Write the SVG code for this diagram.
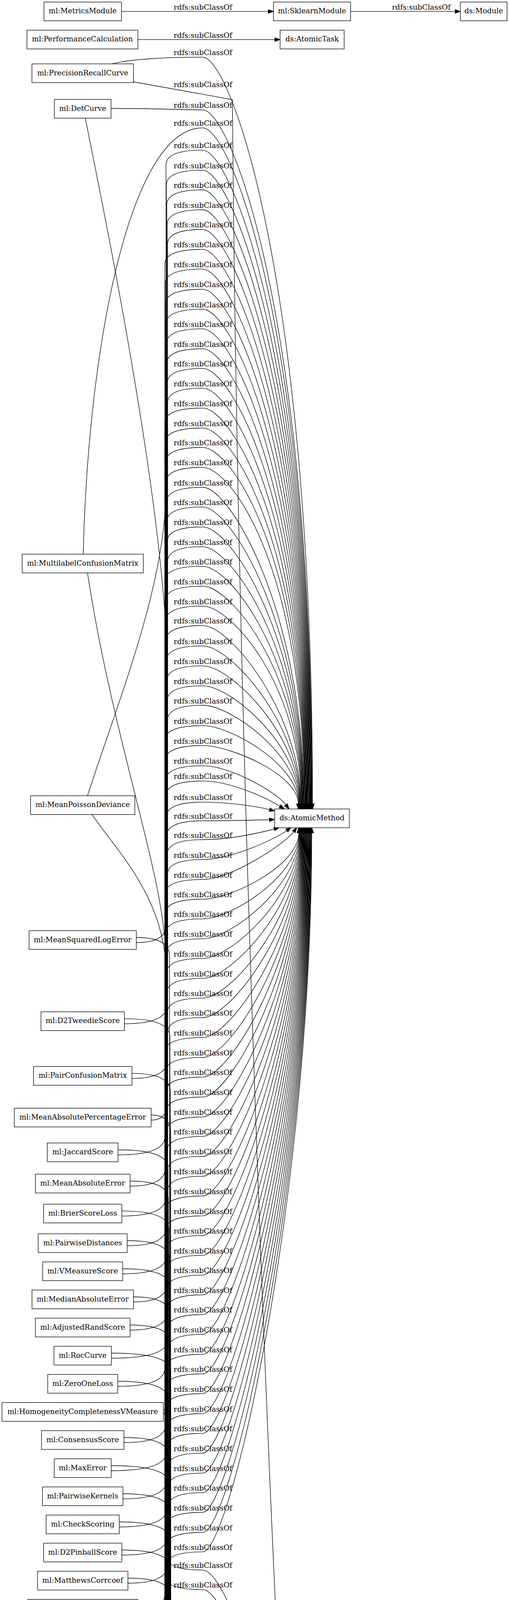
<svg xmlns="http://www.w3.org/2000/svg" width="1303" height="7768" viewBox="0 0 1303 7768">
<style>
.n rect{fill:#fff;stroke:#000;stroke-width:1.33}
.n text,.l text{font-family:"DejaVu Serif","Liberation Serif",serif;font-size:18.67px;text-anchor:middle;fill:#000}
.e path{fill:none;stroke:#000;stroke-width:1.33;marker-end:url(#ah)}
</style>
<defs>
<marker id="ah" markerWidth="16" markerHeight="12" refX="0" refY="0" orient="auto" markerUnits="userSpaceOnUse" overflow="visible"><path d="M0,-4.67L13.3,0L0,4.67z" fill="#000" stroke="#000" stroke-width="1.33"/></marker>
</defs>
<rect x="0" y="0" width="1303" height="7768" fill="#fff"/>
<g id="edges" class="e">
<path d="M311,29.3 L686.7,29.3"/>
<path d="M897.5,29.3 L1165.2,29.3"/>
<path d="M353,101.3 L703.7,101.3"/>
<path d="M286.7,163.5 C340,150 440,146.3 519,146.3 C590,146.3 800,719.7 800,2057.7"/>
<path d="M341.7,209.5 L595,255 C610,2100 700,4300 798,5806.7"/>
<path d="M284.2,277.5 C400,277.5 470,281.3 519,281.3 C590,281.3 798.9,814.2 798.9,2057.7"/>
<path d="M218.3,302.5 C270,560 422,1300 428,1700 V3987.3 Q428,4019.3 519,4019.3 C590,4019.3 800,4555.5 800,5806.7"/>
<path d="M213,1418.6 C225,900 330,327.3 519,327.3 C590,327.3 797.8,846.4 797.8,2057.7"/>
<path d="M224,1466.6 C290,1900 424,2250 424,2450 V4037.3 Q424,4069.3 519,4069.3 C590,4069.3 798.8,4590.5 798.8,5806.7"/>
<path d="M224,2037.2 C300,1800 425,1500 425,1250 V422.3 Q425,384.3 519,384.3 C590,384.3 796.7,886.3 796.7,2057.7"/>
<path d="M235.4,2085.2 C300,2180 426,2300 426,2500 V4088.5 Q426,4120.5 519,4120.5 C590,4120.5 797.6,4626.4 797.6,5806.7"/>
<path d="M348.9,2413 Q426,2413 426,2366.5 V473.6 Q426,435.6 519,435.6 C590,435.6 795.6,922.2 795.6,2057.7"/>
<path d="M348.9,2400 Q434,2400 434,2446.5 V4139 Q434,4171 519,4171 C590,4171 796.4,4661.7 796.4,5806.7"/>
<path d="M318.5,2620.8 Q427,2620.8 427,2574.3 V524 Q427,486 519,486 C590,486 794.5,957.5 794.5,2057.7"/>
<path d="M318.5,2607.8 Q435,2607.8 435,2654.3 V4189.6 Q435,4221.6 519,4221.6 C590,4221.6 795.2,4697.1 795.2,5806.7"/>
<path d="M337.8,2760.8 Q428,2760.8 428,2714.3 V575 Q428,537 519,537 C590,537 793.4,993.2 793.4,2057.7"/>
<path d="M337.8,2747.8 Q436,2747.8 436,2794.3 V4240.2 Q436,4272.2 519,4272.2 C590,4272.2 794,4732.6 794,5806.7"/>
<path d="M387,2867.5 Q429,2867.5 429,2821 V625.4 Q429,587.4 519,587.4 C590,587.4 792.3,1028.5 792.3,2057.7"/>
<path d="M387,2854.5 Q437,2854.5 437,2901 V4290.7 Q437,4322.7 519,4322.7 C590,4322.7 792.8,4767.9 792.8,5806.7"/>
<path d="M302.2,2956.5 Q422,2956.5 422,2910 V676.4 Q422,638.4 519,638.4 C590,638.4 791.2,1064.2 791.2,2057.7"/>
<path d="M302.2,2943.5 Q430,2943.5 430,2990 V4341.3 Q430,4373.3 519,4373.3 C590,4373.3 791.6,4803.3 791.6,5806.7"/>
<path d="M332.9,3036.5 Q423,3036.5 423,2990 V726.8 Q423,688.8 519,688.8 C590,688.8 790.1,1099.5 790.1,2057.7"/>
<path d="M332.9,3023.5 Q431,3023.5 431,3070 V4392.5 Q431,4424.5 519,4424.5 C590,4424.5 790.4,4839.2 790.4,5806.7"/>
<path d="M311.8,3113.1 Q424,3113.1 424,3066.6 V778.4 Q424,740.4 519,740.4 C590,740.4 789,1135.6 789,2057.7"/>
<path d="M311.8,3100.1 Q432,3100.1 432,3146.6 V4443 Q432,4475 519,4475 C590,4475 789.2,4874.5 789.2,5806.7"/>
<path d="M325.6,3189 Q425,3189 425,3142.5 V829.5 Q425,791.5 519,791.5 C590,791.5 787.9,1171.4 787.9,2057.7"/>
<path d="M325.6,3176 Q433,3176 433,3222.5 V4493.6 Q433,4525.6 519,4525.6 C590,4525.6 788,4909.9 788,5806.7"/>
<path d="M314.1,3261 Q426,3261 426,3214.5 V879.8 Q426,841.8 519,841.8 C590,841.8 786.8,1206.6 786.8,2057.7"/>
<path d="M314.1,3248 Q434,3248 434,3294.5 V4544.2 Q434,4576.2 519,4576.2 C590,4576.2 786.8,4945.4 786.8,5806.7"/>
<path d="M341.6,3333 Q427,3333 427,3286.5 V930.9 Q427,892.9 519,892.9 C590,892.9 785.7,1242.3 785.7,2057.7"/>
<path d="M341.6,3320 Q435,3320 435,3366.5 V4595.3 Q435,4627.3 519,4627.3 C590,4627.3 785.6,4981.1 785.6,5806.7"/>
<path d="M332.9,3405 Q428,3405 428,3358.5 V981.2 Q428,943.2 519,943.2 C590,943.2 784.6,1277.6 784.6,2057.7"/>
<path d="M332.9,3392 Q436,3392 436,3438.5 V4645.9 Q436,4677.9 519,4677.9 C590,4677.9 784.4,5016.5 784.4,5806.7"/>
<path d="M285.3,3477 Q429,3477 429,3430.5 V1031.6 Q429,993.6 519,993.6 C590,993.6 783.5,1312.8 783.5,2057.7"/>
<path d="M285.3,3464 Q437,3464 437,3510.5 V4696.4 Q437,4728.4 519,4728.4 C590,4728.4 783.2,5051.9 783.2,5806.7"/>
<path d="M301.3,3549 Q422,3549 422,3502.5 V1082.7 Q422,1044.7 519,1044.7 C590,1044.7 782.4,1348.6 782.4,2057.7"/>
<path d="M301.3,3536 Q430,3536 430,3582.5 V4747 Q430,4779 519,4779 C590,4779 782,5087.3 782,5806.7"/>
<path d="M418.4,3621 Q423,3621 423,3574.5 V1133.7 Q423,1095.7 519,1095.7 C590,1095.7 781.3,1384.3 781.3,2057.7"/>
<path d="M418.4,3608 Q431,3608 431,3654.5 V4797.6 Q431,4829.6 519,4829.6 C590,4829.6 780.8,5122.7 780.8,5806.7"/>
<path d="M317.3,3693 Q424,3693 424,3646.5 V1183.4 Q424,1145.4 519,1145.4 C590,1145.4 780.2,1419.1 780.2,2057.7"/>
<path d="M317.3,3680 Q432,3680 432,3726.5 V4848.7 Q432,4880.7 519,4880.7 C590,4880.7 779.6,5158.5 779.6,5806.7"/>
<path d="M284.7,3765 Q425,3765 425,3718.5 V1234.4 Q425,1196.4 519,1196.4 C590,1196.4 779.1,1454.8 779.1,2057.7"/>
<path d="M284.7,3752 Q433,3752 433,3798.5 V4899.3 Q433,4931.3 519,4931.3 C590,4931.3 778.4,5193.9 778.4,5806.7"/>
<path d="M314.7,3837 Q426,3837 426,3790.5 V1285.5 Q426,1247.5 519,1247.5 C590,1247.5 778,1571.6 778,2057.7"/>
<path d="M314.7,3824 Q434,3824 434,3870.5 V4949.3 Q434,4981.3 519,4981.3 C590,4981.3 777.2,5228.9 777.2,5806.7"/>
<path d="M305.4,3909 Q427,3909 427,3862.5 V1335.8 Q427,1297.8 519,1297.8 C590,1297.8 776.9,1601.8 776.9,2057.7"/>
<path d="M305.4,3896 Q435,3896 435,3942.5 V5000.5 Q435,5032.5 519,5032.5 C590,5032.5 776,5342.2 776,5806.7"/>
<path d="M311.8,3981 Q428,3981 428,3934.5 V1386.9 Q428,1348.9 519,1348.9 C590,1348.9 775.8,1632.4 775.8,2057.7"/>
<path d="M311.8,3968 Q436,3968 436,4014.5 V5051.6 Q436,5083.6 519,5083.6 C590,5083.6 774.8,5372.8 774.8,5806.7"/>
<path d="M327.5,4053 Q429,4053 429,4006.5 V1437.6 Q429,1399.6 519,1399.6 C590,1399.6 774.7,1662.8 774.7,2057.7"/>
<path d="M327.5,4040 Q437,4040 437,4086.5 V5101.6 Q437,5133.6 519,5133.6 C590,5133.6 773.6,5402.8 773.6,5806.7"/>
<path d="M352.8,4125 Q422,4125 422,4078.5 V1487.6 Q422,1449.6 519,1449.6 C590,1449.6 773.6,1692.8 773.6,2057.7"/>
<path d="M352.8,4112 Q430,4112 430,4158.5 V5152.8 Q430,5184.8 519,5184.8 C590,5184.8 772.4,5433.6 772.4,5806.7"/>
<path d="M383.8,4197 Q423,4197 423,4150.5 V1538.6 Q423,1500.6 519,1500.6 C590,1500.6 772.5,1723.4 772.5,2057.7"/>
<path d="M383.8,4184 Q431,4184 431,4230.5 V5203.3 Q431,5235.3 519,5235.3 C590,5235.3 771.2,5463.9 771.2,5806.7"/>
<path d="M334.6,4269 Q424,4269 424,4222.5 V1589.6 Q424,1551.6 519,1551.6 C590,1551.6 771.4,1754 771.4,2057.7"/>
<path d="M334.6,4256 Q432,4256 432,4302.5 V5253.3 Q432,5285.3 519,5285.3 C590,5285.3 770,5493.9 770,5806.7"/>
<path d="M415.8,4341 Q425,4341 425,4294.5 V1639.4 Q425,1601.4 519,1601.4 C590,1601.4 770.3,1829.6 770.3,2057.7"/>
<path d="M415.8,4328 Q433,4328 433,4374.5 V5304.5 Q433,5336.5 519,5336.5 C590,5336.5 768.8,5571.6 768.8,5806.7"/>
<path d="M329.5,4413 Q426,4413 426,4366.5 V1691.6 Q426,1653.6 519,1653.6 C590,1653.6 769.2,1855.7 769.2,2057.7"/>
<path d="M329.5,4400 Q434,4400 434,4446.5 V5355.6 Q434,5387.6 519,5387.6 C590,5387.6 767.6,5597.2 767.6,5806.7"/>
<path d="M349.6,4485 Q427,4485 427,4438.5 V1742.6 Q427,1704.6 519,1704.6 C590,1704.6 768.1,1881.2 768.1,2057.7"/>
<path d="M349.6,4472 Q435,4472 435,4518.5 V5405.6 Q435,5437.6 519,5437.6 C590,5437.6 766.4,5622.2 766.4,5806.7"/>
<path d="M345.5,4557 Q428,4557 428,4510.5 V1793.6 Q428,1755.6 519,1755.6 C590,1755.6 767,1906.7 767,2057.7"/>
<path d="M345.5,4544 Q436,4544 436,4590.5 V5456.8 Q436,5488.8 519,5488.8 C590,5488.8 765.2,5647.8 765.2,5806.7"/>
<path d="M327.5,4629 Q429,4629 429,4582.5 V1843.5 Q429,1805.5 519,1805.5 C590,1805.5 765.9,1931.6 765.9,2057.7"/>
<path d="M327.5,4616 Q437,4616 437,4662.5 V5507.3 Q437,5539.3 519,5539.3 C590,5539.3 764,5673 764,5806.7"/>
<path d="M320.5,4701 Q422,4701 422,4654.5 V1895.7 Q422,1857.7 519,1857.7 C590,1857.7 764.8,1957.7 764.8,2057.7"/>
<path d="M320.5,4688 Q430,4688 430,4734.5 V5557.3 Q430,5589.3 519,5589.3 C590,5589.3 762.8,5698 762.8,5806.7"/>
<path d="M319.2,4773 Q423,4773 423,4726.5 V1946.7 Q423,1908.7 519,1908.7 C590,1908.7 763.7,1983.2 763.7,2057.7"/>
<path d="M319.2,4760 Q431,4760 431,4806.5 V5608.4 Q431,5640.4 519,5640.4 C590,5640.4 761.6,5723.6 761.6,5806.7"/>
<path d="M374.2,4845 Q424,4845 424,4798.5 V1998.3 Q424,1960.3 519,1960.3 C590,1960.3 708,2028.4 732,2060.4"/>
<path d="M374.2,4832 Q432,4832 432,4878.5 V5659 Q432,5691 519,5691 C590,5691 758,5748.9 758,5806.7"/>
<path d="M284.7,4917 Q425,4917 425,4870.5 V2037.4 Q425,1999.4 519,1999.4 C590,1999.4 682.7,2042.9 716.7,2064"/>
<path d="M284.7,4904 Q433,4904 433,4950.5 V5709.6 Q433,5741.6 519,5741.6 C590,5741.6 688.7,5795.4 724.2,5813.9"/>
<path d="M290.1,4989 Q426,4989 426,4942.5 V2091.4 Q426,2053.4 519,2053.4 C580,2053.4 651.3,2063.1 690.1,2072.8"/>
<path d="M290.1,4976 Q434,4976 434,5022.5 V5760.1 Q434,5792.1 519,5792.1 C545,5792.1 573.4,5805.5 611.4,5817.9"/>
<path d="M334.2,5061 Q427,5061 427,5014.5 V2139.4 Q427,2101.4 519,2101.4 C580,2101.4 649.7,2099.5 689.7,2098.5"/>
<path d="M334.2,5048 Q435,5048 435,5094.5 V5811.3 Q435,5843.3 519,5843.3 C545,5843.3 568.9,5852.2 607.7,5861.8"/>
<path d="M314.7,5133 Q428,5133 428,5086.5 V2187.5 Q428,2149.5 519,2149.5 C590,2149.5 663.6,2132.6 702.2,2122"/>
<path d="M314.7,5120 Q436,5120 436,5166.5 V5861.9 Q436,5893.9 519,5893.9 C600,5893.9 671.4,5881.5 710.1,5871.4"/>
<path d="M354.7,5205 Q429,5205 429,5158.5 V2238.5 Q429,2200.5 519,2200.5 C590,2200.5 701.8,2149.7 734.2,2126.3"/>
<path d="M354.7,5192 Q437,5192 437,5238.5 V5911.9 Q437,5943.9 519,5943.9 C600,5943.9 712.7,5906.1 740.7,5877.5"/>
<path d="M330.7,5277 Q422,5277 422,5230.5 V2289.5 Q422,2251.5 519,2251.5 C590,2251.5 728,2161.1 752,2129.1"/>
<path d="M330.7,5264 Q430,5264 430,5310.5 V5983 C430,6011 475,6023 515,6023 C575,6023 762,5927.1 762,5881.3"/>
<path d="M309.9,5349 Q423,5349 423,5302.5 V2339.9 Q423,2301.9 519,2301.9 C590,2301.9 765,2216.9 765,2131.8"/>
<path d="M309.9,5336 Q431,5336 431,5382.5 V6033.6 C431,6061.6 475,6073.6 515,6073.6 C575,6073.6 763.1,5949.8 763.1,5881.3"/>
<path d="M350.2,5421 Q424,5421 424,5374.5 V2390.3 Q424,2352.3 519,2352.3 C590,2352.3 766,2242.1 766,2131.8"/>
<path d="M350.2,5408 Q432,5408 432,5454.5 V6084.8 C432,6112.8 475,6124.8 515,6124.8 C575,6124.8 764.2,5972.9 764.2,5881.3"/>
<path d="M309.3,5493 Q425,5493 425,5446.5 V2441.3 Q425,2403.3 519,2403.3 C590,2403.3 767,2267.6 767,2131.8"/>
<path d="M309.3,5480 Q433,5480 433,5526.5 V6135.3 C433,6163.3 475,6175.3 515,6175.3 C575,6175.3 765.3,5995.6 765.3,5881.3"/>
<path d="M318.6,5565 Q426,5565 426,5518.5 V2491.7 Q426,2453.7 519,2453.7 C590,2453.7 768,2292.8 768,2131.8"/>
<path d="M318.6,5552 Q434,5552 434,5598.5 V6185.3 C434,6213.3 475,6225.3 515,6225.3 C575,6225.3 766.4,6018.1 766.4,5881.3"/>
<path d="M278.3,5637 Q427,5637 427,5590.5 V2542.7 Q427,2504.7 519,2504.7 C590,2504.7 769,2318.3 769,2131.8"/>
<path d="M278.3,5624 Q435,5624 435,5670.5 V6236.5 C435,6264.5 475,6276.5 515,6276.5 C575,6276.5 767.5,6041.1 767.5,5881.3"/>
<path d="M370.7,5709 Q428,5709 428,5662.5 V2593.2 Q428,2555.2 519,2555.2 C590,2555.2 770,2343.5 770,2131.8"/>
<path d="M370.7,5696 Q436,5696 436,5742.5 V6287 C436,6315 475,6327 515,6327 C575,6327 768.6,6063.9 768.6,5881.3"/>
<path d="M361.4,5781 Q429,5781 429,5734.5 V2643 Q429,2605 519,2605 C590,2605 771,2368.4 771,2131.8"/>
<path d="M361.4,5768 Q437,5768 437,5814.5 V6337.6 C437,6365.6 475,6377.6 515,6377.6 C575,6377.6 769.7,6086.6 769.7,5881.3"/>
<path d="M277.9,5853 Q422,5853 422,5806.5 V2694 Q422,2656 519,2656 C590,2656 772,2393.9 772,2131.8"/>
<path d="M277.9,5840 Q430,5840 430,5886.5 V6388.8 C430,6416.8 475,6428.8 515,6428.8 C575,6428.8 770.8,6109.7 770.8,5881.3"/>
<path d="M296.5,5925 Q423,5925 423,5878.5 V2745 Q423,2707 519,2707 C590,2707 773,2419.4 773,2131.8"/>
<path d="M296.5,5912 Q431,5912 431,5958.5 V6429.3 C431,6457.3 475,6469.3 515,6469.3 C575,6469.3 771.9,6127.9 771.9,5881.3"/>
<path d="M326.3,5997 Q424,5997 424,5950.5 V2795.4 Q424,2757.4 519,2757.4 C590,2757.4 774,2444.6 774,2131.8"/>
<path d="M326.3,5984 Q432,5984 432,6030.5 V6487.5 C432,6515.5 475,6527.5 515,6527.5 C575,6527.5 773,6154.1 773,5881.3"/>
<path d="M361.4,6069 Q425,6069 425,6022.5 V2846.4 Q425,2808.4 519,2808.4 C590,2808.4 775,2470.1 775,2131.8"/>
<path d="M361.4,6056 Q433,6056 433,6102.5 V6544.6 C433,6572.6 475,6584.6 515,6584.6 C575,6584.6 774.1,6179.8 774.1,5881.3"/>
<path d="M332.9,6141 Q426,6141 426,6094.5 V2897.4 Q426,2859.4 519,2859.4 C590,2859.4 776,2495.6 776,2131.8"/>
<path d="M332.9,6128 Q434,6128 434,6174.5 V6585.1 C434,6613.1 475,6625.1 515,6625.1 C575,6625.1 775.2,6198 775.2,5881.3"/>
<path d="M344.2,6213 Q427,6213 427,6166.5 V2947.2 Q427,2909.2 519,2909.2 C590,2909.2 777,2520.5 777,2131.8"/>
<path d="M344.2,6200 Q435,6200 435,6246.5 V6643.3 C435,6671.3 475,6683.3 515,6683.3 C575,6683.3 776.3,6224.2 776.3,5881.3"/>
<path d="M295.5,6285 Q428,6285 428,6238.5 V2998.3 Q428,2960.3 519,2960.3 C590,2960.3 778,2546.1 778,2131.8"/>
<path d="M295.5,6272 Q436,6272 436,6318.5 V6684.5 C436,6712.5 475,6724.5 515,6724.5 C575,6724.5 777.4,6242.7 777.4,5881.3"/>
<path d="M344.2,6357 Q429,6357 429,6310.5 V3049.3 Q429,3011.3 519,3011.3 C590,3011.3 779,2571.6 779,2131.8"/>
<path d="M344.2,6344 Q437,6344 437,6390.5 V6743.3 C437,6771.3 475,6783.3 515,6783.3 C575,6783.3 778.5,6269.2 778.5,5881.3"/>
<path d="M347.7,6429 Q422,6429 422,6382.5 V3099.7 Q422,3061.7 519,3061.7 C590,3061.7 780,2596.8 780,2131.8"/>
<path d="M347.7,6416 Q430,6416 430,6462.5 V6784.5 C430,6812.5 475,6824.5 515,6824.5 C575,6824.5 779.6,6287.7 779.6,5881.3"/>
<path d="M333.6,6501 Q423,6501 423,6454.5 V3150.7 Q423,3112.7 519,3112.7 C590,3112.7 781,2622.3 781,2131.8"/>
<path d="M333.6,6488 Q431,6488 431,6534.5 V6842.1 C431,6870.1 475,6882.1 515,6882.1 C575,6882.1 780.7,6313.7 780.7,5881.3"/>
<path d="M310.9,6573 Q424,6573 424,6526.5 V3201.1 Q424,3163.1 519,3163.1 C590,3163.1 782,2647.5 782,2131.8"/>
<path d="M310.9,6560 Q432,6560 432,6606.5 V6884.8 C432,6912.8 475,6924.8 515,6924.8 C575,6924.8 781.8,6332.9 781.8,5881.3"/>
<path d="M289.1,6645 Q425,6645 425,6598.5 V3251.7 Q425,3213.7 519,3213.7 C590,3213.7 783,2672.8 783,2131.8"/>
<path d="M289.1,6632 Q433,6632 433,6678.5 V6943 C433,6971 475,6983 515,6983 C575,6983 782.9,6359.1 782.9,5881.3"/>
<path d="M348.3,6717 Q426,6717 426,6670.5 V3302.3 Q426,3264.3 519,3264.3 C590,3264.3 784,2698.1 784,2131.8"/>
<path d="M348.3,6704 Q434,6704 434,6750.5 V6984.8 C434,7012.8 475,7024.8 515,7024.8 C575,7024.8 784,6377.9 784,5881.3"/>
<path d="M287.2,6789 Q427,6789 427,6742.5 V3352.9 Q427,3314.9 519,3314.9 C590,3314.9 785,2723.4 785,2131.8"/>
<path d="M287.2,6776 Q435,6776 435,6822.5 V7043 C435,7071 475,7083 515,7083 C575,7083 785.1,6404.1 785.1,5881.3"/>
<path d="M277.9,6861 Q428,6861 428,6814.5 V3403.4 Q428,3365.4 519,3365.4 C590,3365.4 786,2748.6 786,2131.8"/>
<path d="M277.9,6848 Q436,6848 436,6894.5 V7101.8 C436,7129.8 475,7141.8 515,7141.8 C575,7141.8 786.2,6430.5 786.2,5881.3"/>
<path d="M368.8,6933 Q429,6933 429,6886.5 V3454 Q429,3416 519,3416 C590,3416 787,2773.9 787,2131.8"/>
<path d="M368.8,6920 Q437,6920 437,6966.5 V7142.9 C437,7170.9 475,7182.9 515,7182.9 C575,7182.9 787.3,6449 787.3,5881.3"/>
<path d="M256.5,7005 Q422,7005 422,6958.5 V3505.2 Q422,3467.2 519,3467.2 C590,3467.2 788,2799.5 788,2131.8"/>
<path d="M256.5,6992 Q430,6992 430,7038.5 V7201.7 C430,7229.7 475,7241.7 515,7241.7 C575,7241.7 788.4,6475.5 788.4,5881.3"/>
<path d="M302.2,7077 Q423,7077 423,7030.5 V3555.2 Q423,3517.2 519,3517.2 C590,3517.2 789,2824.5 789,2131.8"/>
<path d="M302.2,7064 Q431,7064 431,7110.5 V7243.5 C431,7271.5 475,7283.5 515,7283.5 C575,7283.5 789.5,6494.3 789.5,5881.3"/>
<path d="M354.7,7149 Q424,7149 424,7102.5 V3605.7 Q424,3567.7 519,3567.7 C590,3567.7 790,2849.8 790,2131.8"/>
<path d="M354.7,7136 Q432,7136 432,7182.5 V7300.5 C432,7328.5 475,7340.5 515,7340.5 C575,7340.5 790.6,6519.9 790.6,5881.3"/>
<path d="M380,7221 Q425,7221 425,7174.5 V3656.9 Q425,3618.9 519,3618.9 C590,3618.9 791,2875.4 791,2131.8"/>
<path d="M380,7208 Q433,7208 433,7254.5 V7341.7 C433,7369.7 475,7381.7 515,7381.7 C575,7381.7 791.7,6538.5 791.7,5881.3"/>
<path d="M335.8,7293 Q426,7293 426,7246.5 V3707.4 Q426,3669.4 519,3669.4 C590,3669.4 792,2900.6 792,2131.8"/>
<path d="M335.8,7280 Q434,7280 434,7326.5 V7399.3 C434,7427.3 475,7439.3 515,7439.3 C575,7439.3 792.8,6564.4 792.8,5881.3"/>
<path d="M318.2,7365 Q427,7365 427,7318.5 V3758 Q427,3720 519,3720 C590,3720 793,2925.9 793,2131.8"/>
<path d="M318.2,7352 Q435,7352 435,7398.5 V7456.3 C435,7484.3 475,7496.3 515,7496.3 C575,7496.3 793.9,6590.1 793.9,5881.3"/>
<path d="M291.7,7437 Q428,7437 428,7390.5 V3809.2 Q428,3771.2 519,3771.2 C590,3771.2 794,2951.5 794,2131.8"/>
<path d="M291.7,7424 Q436,7424 436,7470.5 V7496.3 C436,7524.3 475,7536.3 515,7536.3 C575,7536.3 795,6608.1 795,5881.3"/>
<path d="M326.3,7509 Q429,7509 429,7462.5 V3859.2 Q429,3821.2 519,3821.2 C590,3821.2 795,2976.5 795,2131.8"/>
<path d="M326.3,7496 C400,7496 440,7591.6 515,7591.6 C575,7591.6 796.1,6632.9 796.1,5881.3"/>
<path d="M353.1,7581 Q422,7581 422,7534.5 V3909.7 Q422,3871.7 519,3871.7 C590,3871.7 796,3001.8 796,2131.8"/>
<path d="M353.1,7590 C430,7600 460,7643.3 515,7643.3 C575,7643.3 797.2,6656.2 797.2,5881.3"/>
<path d="M307.7,7653 Q423,7653 423,7606.5 V3960.9 Q423,3922.9 519,3922.9 C590,3922.9 797,3027.4 797,2131.8"/>
<path d="M307.7,7660 C400,7672 460,7689.8 515,7689.8 C575,7689.8 798.3,6677.1 798.3,5881.3"/>
<path d="M293.6,7725 Q424,7725 424,7678.5 V4010.8 Q424,3972.8 519,3972.8 C590,3972.8 798,3052.3 798,2131.8"/>
<path d="M293.6,7740 C380,7765 470,7755 530,7740 C580,7728 799.4,6698.3 799.4,5881.3"/>
</g>
<g id="edge-labels" class="l" transform="translate(0,7)">
<text x="519.5" y="18.3">rdfs:subClassOf</text>
<text x="1078.4" y="18.3">rdfs:subClassOf</text>
<text x="519.5" y="90">rdfs:subClassOf</text>
<text x="519.5" y="134.3">rdfs:subClassOf</text>
<text x="519.5" y="216">rdfs:subClassOf</text>
<text x="519.5" y="269.3">rdfs:subClassOf</text>
<text x="519.5" y="315.3">rdfs:subClassOf</text>
<text x="519.5" y="372.3">rdfs:subClassOf</text>
<text x="519.5" y="423.6">rdfs:subClassOf</text>
<text x="519.5" y="474">rdfs:subClassOf</text>
<text x="519.5" y="525">rdfs:subClassOf</text>
<text x="519.5" y="575.4">rdfs:subClassOf</text>
<text x="519.5" y="626.4">rdfs:subClassOf</text>
<text x="519.5" y="676.8">rdfs:subClassOf</text>
<text x="519.5" y="728.4">rdfs:subClassOf</text>
<text x="519.5" y="779.5">rdfs:subClassOf</text>
<text x="519.5" y="829.8">rdfs:subClassOf</text>
<text x="519.5" y="880.9">rdfs:subClassOf</text>
<text x="519.5" y="931.2">rdfs:subClassOf</text>
<text x="519.5" y="981.6">rdfs:subClassOf</text>
<text x="519.5" y="1032.7">rdfs:subClassOf</text>
<text x="519.5" y="1083.7">rdfs:subClassOf</text>
<text x="519.5" y="1133.4">rdfs:subClassOf</text>
<text x="519.5" y="1184.4">rdfs:subClassOf</text>
<text x="519.5" y="1235.5">rdfs:subClassOf</text>
<text x="519.5" y="1285.8">rdfs:subClassOf</text>
<text x="519.5" y="1336.9">rdfs:subClassOf</text>
<text x="519.5" y="1387.6">rdfs:subClassOf</text>
<text x="519.5" y="1437.6">rdfs:subClassOf</text>
<text x="519.5" y="1488.6">rdfs:subClassOf</text>
<text x="519.5" y="1539.6">rdfs:subClassOf</text>
<text x="519.5" y="1589.4">rdfs:subClassOf</text>
<text x="519.5" y="1641.6">rdfs:subClassOf</text>
<text x="519.5" y="1692.6">rdfs:subClassOf</text>
<text x="519.5" y="1743.6">rdfs:subClassOf</text>
<text x="519.5" y="1793.5">rdfs:subClassOf</text>
<text x="519.5" y="1845.7">rdfs:subClassOf</text>
<text x="519.5" y="1896.7">rdfs:subClassOf</text>
<text x="519.5" y="1948.3">rdfs:subClassOf</text>
<text x="519.5" y="1987.4">rdfs:subClassOf</text>
<text x="519.5" y="2041.4">rdfs:subClassOf</text>
<text x="519.5" y="2089.4">rdfs:subClassOf</text>
<text x="519.5" y="2137.5">rdfs:subClassOf</text>
<text x="519.5" y="2188.5">rdfs:subClassOf</text>
<text x="519.5" y="2239.5">rdfs:subClassOf</text>
<text x="519.5" y="2289.9">rdfs:subClassOf</text>
<text x="519.5" y="2340.3">rdfs:subClassOf</text>
<text x="519.5" y="2391.3">rdfs:subClassOf</text>
<text x="519.5" y="2441.7">rdfs:subClassOf</text>
<text x="519.5" y="2492.7">rdfs:subClassOf</text>
<text x="519.5" y="2543.2">rdfs:subClassOf</text>
<text x="519.5" y="2593">rdfs:subClassOf</text>
<text x="519.5" y="2644">rdfs:subClassOf</text>
<text x="519.5" y="2695">rdfs:subClassOf</text>
<text x="519.5" y="2745.4">rdfs:subClassOf</text>
<text x="519.5" y="2796.4">rdfs:subClassOf</text>
<text x="519.5" y="2847.4">rdfs:subClassOf</text>
<text x="519.5" y="2897.2">rdfs:subClassOf</text>
<text x="519.5" y="2948.3">rdfs:subClassOf</text>
<text x="519.5" y="2999.3">rdfs:subClassOf</text>
<text x="519.5" y="3049.7">rdfs:subClassOf</text>
<text x="519.5" y="3100.7">rdfs:subClassOf</text>
<text x="519.5" y="3151.1">rdfs:subClassOf</text>
<text x="519.5" y="3201.7">rdfs:subClassOf</text>
<text x="519.5" y="3252.3">rdfs:subClassOf</text>
<text x="519.5" y="3302.9">rdfs:subClassOf</text>
<text x="519.5" y="3353.4">rdfs:subClassOf</text>
<text x="519.5" y="3404">rdfs:subClassOf</text>
<text x="519.5" y="3455.2">rdfs:subClassOf</text>
<text x="519.5" y="3505.2">rdfs:subClassOf</text>
<text x="519.5" y="3555.7">rdfs:subClassOf</text>
<text x="519.5" y="3606.9">rdfs:subClassOf</text>
<text x="519.5" y="3657.4">rdfs:subClassOf</text>
<text x="519.5" y="3708">rdfs:subClassOf</text>
<text x="519.5" y="3759.2">rdfs:subClassOf</text>
<text x="519.5" y="3809.2">rdfs:subClassOf</text>
<text x="519.5" y="3859.7">rdfs:subClassOf</text>
<text x="519.5" y="3910.9">rdfs:subClassOf</text>
<text x="519.5" y="3960.8">rdfs:subClassOf</text>
<text x="519.5" y="4007.3">rdfs:subClassOf</text>
<text x="519.5" y="4057.3">rdfs:subClassOf</text>
<text x="519.5" y="4108.5">rdfs:subClassOf</text>
<text x="519.5" y="4159">rdfs:subClassOf</text>
<text x="519.5" y="4209.6">rdfs:subClassOf</text>
<text x="519.5" y="4260.2">rdfs:subClassOf</text>
<text x="519.5" y="4310.7">rdfs:subClassOf</text>
<text x="519.5" y="4361.3">rdfs:subClassOf</text>
<text x="519.5" y="4412.5">rdfs:subClassOf</text>
<text x="519.5" y="4463">rdfs:subClassOf</text>
<text x="519.5" y="4513.6">rdfs:subClassOf</text>
<text x="519.5" y="4564.2">rdfs:subClassOf</text>
<text x="519.5" y="4615.3">rdfs:subClassOf</text>
<text x="519.5" y="4665.9">rdfs:subClassOf</text>
<text x="519.5" y="4716.4">rdfs:subClassOf</text>
<text x="519.5" y="4767">rdfs:subClassOf</text>
<text x="519.5" y="4817.6">rdfs:subClassOf</text>
<text x="519.5" y="4868.7">rdfs:subClassOf</text>
<text x="519.5" y="4919.3">rdfs:subClassOf</text>
<text x="519.5" y="4969.3">rdfs:subClassOf</text>
<text x="519.5" y="5020.5">rdfs:subClassOf</text>
<text x="519.5" y="5071.6">rdfs:subClassOf</text>
<text x="519.5" y="5121.6">rdfs:subClassOf</text>
<text x="519.5" y="5172.8">rdfs:subClassOf</text>
<text x="519.5" y="5223.3">rdfs:subClassOf</text>
<text x="519.5" y="5273.3">rdfs:subClassOf</text>
<text x="519.5" y="5324.5">rdfs:subClassOf</text>
<text x="519.5" y="5375.6">rdfs:subClassOf</text>
<text x="519.5" y="5425.6">rdfs:subClassOf</text>
<text x="519.5" y="5476.8">rdfs:subClassOf</text>
<text x="519.5" y="5527.3">rdfs:subClassOf</text>
<text x="519.5" y="5577.3">rdfs:subClassOf</text>
<text x="519.5" y="5628.4">rdfs:subClassOf</text>
<text x="519.5" y="5679">rdfs:subClassOf</text>
<text x="519.5" y="5729.6">rdfs:subClassOf</text>
<text x="519.5" y="5780.1">rdfs:subClassOf</text>
<text x="519.5" y="5831.3">rdfs:subClassOf</text>
<text x="519.5" y="5881.9">rdfs:subClassOf</text>
<text x="519.5" y="5931.9">rdfs:subClassOf</text>
<text x="519.5" y="5983">rdfs:subClassOf</text>
<text x="519.5" y="6033.6">rdfs:subClassOf</text>
<text x="519.5" y="6084.8">rdfs:subClassOf</text>
<text x="519.5" y="6135.3">rdfs:subClassOf</text>
<text x="519.5" y="6185.3">rdfs:subClassOf</text>
<text x="519.5" y="6236.5">rdfs:subClassOf</text>
<text x="519.5" y="6287">rdfs:subClassOf</text>
<text x="519.5" y="6337.6">rdfs:subClassOf</text>
<text x="519.5" y="6388.8">rdfs:subClassOf</text>
<text x="519.5" y="6429.3">rdfs:subClassOf</text>
<text x="519.5" y="6487.5">rdfs:subClassOf</text>
<text x="519.5" y="6544.6">rdfs:subClassOf</text>
<text x="519.5" y="6585.1">rdfs:subClassOf</text>
<text x="519.5" y="6643.3">rdfs:subClassOf</text>
<text x="519.5" y="6684.5">rdfs:subClassOf</text>
<text x="519.5" y="6743.3">rdfs:subClassOf</text>
<text x="519.5" y="6784.5">rdfs:subClassOf</text>
<text x="519.5" y="6842.1">rdfs:subClassOf</text>
<text x="519.5" y="6884.8">rdfs:subClassOf</text>
<text x="519.5" y="6943">rdfs:subClassOf</text>
<text x="519.5" y="6984.8">rdfs:subClassOf</text>
<text x="519.5" y="7043">rdfs:subClassOf</text>
<text x="519.5" y="7101.8">rdfs:subClassOf</text>
<text x="519.5" y="7142.9">rdfs:subClassOf</text>
<text x="519.5" y="7201.7">rdfs:subClassOf</text>
<text x="519.5" y="7243.5">rdfs:subClassOf</text>
<text x="519.5" y="7300.5">rdfs:subClassOf</text>
<text x="519.5" y="7341.7">rdfs:subClassOf</text>
<text x="519.5" y="7399.3">rdfs:subClassOf</text>
<text x="519.5" y="7456.3">rdfs:subClassOf</text>
<text x="519.5" y="7496.3">rdfs:subClassOf</text>
<text x="519.5" y="7551.6">rdfs:subClassOf</text>
<text x="519.5" y="7603.3">rdfs:subClassOf</text>
<text x="519.5" y="7649.8">rdfs:subClassOf</text>
<text x="519.5" y="7696.8">rdfs:subClassOf</text>
</g>
<g id="nodes">
<g id="n-MetricsModule" class="n"><rect x="112.5" y="5.3" width="198.5" height="48"/><text x="211.75" y="34.3">ml:MetricsModule</text></g>
<g id="n-SklearnModule" class="n"><rect x="700" y="5.3" width="197.5" height="48"/><text x="798.75" y="34.3">ml:SklearnModule</text></g>
<g id="n-Module" class="n"><rect x="1178.5" y="5.3" width="119.5" height="48"/><text x="1238.25" y="34.3">ds:Module</text></g>
<g id="n-PerformanceCalculation" class="n"><rect x="69" y="77.3" width="284" height="48"/><text x="211" y="106.3">ml:PerformanceCalculation</text></g>
<g id="n-AtomicTask" class="n"><rect x="717" y="77.3" width="164" height="48"/><text x="799" y="106.3">ds:AtomicTask</text></g>
<g id="n-AtomicMethod" class="n"><rect x="703" y="2071" width="191.4" height="48"/><text x="798.7" y="2100">ds:AtomicMethod</text></g>
<g id="n-PerformanceCalculationMethod" class="n"><rect x="620.6" y="5820" width="357" height="48"/><text x="799.1" y="5849">ml:PerformanceCalculationMethod</text></g>
<g id="n-PrecisionRecallCurve" class="n"><rect x="81.7" y="163.5" width="260" height="48"/><text x="211.7" y="192.5">ml:PrecisionRecallCurve</text></g>
<g id="n-DetCurve" class="n"><rect x="139.2" y="254.5" width="145" height="48"/><text x="211.7" y="283.5">ml:DetCurve</text></g>
<g id="n-MultilabelConfusionMatrix" class="n"><rect x="56.6" y="1418.6" width="310.3" height="48"/><text x="211.7" y="1447.6">ml:MultilabelConfusionMatrix</text></g>
<g id="n-MeanPoissonDeviance" class="n"><rect x="78.2" y="2037.2" width="267" height="48"/><text x="211.7" y="2066.2">ml:MeanPoissonDeviance</text></g>
<g id="n-MeanSquaredLogError" class="n"><rect x="74.5" y="2382.5" width="274.4" height="48"/><text x="211.7" y="2411.5">ml:MeanSquaredLogError</text></g>
<g id="n-D2TweedieScore" class="n"><rect x="104.9" y="2590.3" width="213.6" height="48"/><text x="211.7" y="2619.3">ml:D2TweedieScore</text></g>
<g id="n-PairConfusionMatrix" class="n"><rect x="85.7" y="2730.3" width="252.1" height="48"/><text x="211.7" y="2759.3">ml:PairConfusionMatrix</text></g>
<g id="n-MeanAbsolutePercentageError" class="n"><rect x="36.5" y="2837" width="350.5" height="48"/><text x="211.7" y="2866">ml:MeanAbsolutePercentageError</text></g>
<g id="n-JaccardScore" class="n"><rect x="121.2" y="2926" width="181" height="48"/><text x="211.7" y="2955">ml:JaccardScore</text></g>
<g id="n-MeanAbsoluteError" class="n"><rect x="90.6" y="3006" width="242.3" height="48"/><text x="211.7" y="3035">ml:MeanAbsoluteError</text></g>
<g id="n-BrierScoreLoss" class="n"><rect x="111.6" y="3082.6" width="200.2" height="48"/><text x="211.7" y="3111.6">ml:BrierScoreLoss</text></g>
<g id="n-PairwiseDistances" class="n"><rect x="97.8" y="3158.5" width="227.8" height="48"/><text x="211.7" y="3187.5">ml:PairwiseDistances</text></g>
<g id="n-VMeasureScore" class="n"><rect x="109.4" y="3230.5" width="204.7" height="48"/><text x="211.7" y="3259.5">ml:VMeasureScore</text></g>
<g id="n-MedianAbsoluteError" class="n"><rect x="81.9" y="3302.5" width="259.7" height="48"/><text x="211.7" y="3331.5">ml:MedianAbsoluteError</text></g>
<g id="n-AdjustedRandScore" class="n"><rect x="90.5" y="3374.5" width="242.4" height="48"/><text x="211.7" y="3403.5">ml:AdjustedRandScore</text></g>
<g id="n-RocCurve" class="n"><rect x="138.2" y="3446.5" width="147.1" height="48"/><text x="211.7" y="3475.5">ml:RocCurve</text></g>
<g id="n-ZeroOneLoss" class="n"><rect x="122.2" y="3518.5" width="179.1" height="48"/><text x="211.7" y="3547.5">ml:ZeroOneLoss</text></g>
<g id="n-HomogeneityCompletenessVMeasure" class="n"><rect x="5.1" y="3590.5" width="413.3" height="48"/><text x="211.7" y="3619.5">ml:HomogeneityCompletenessVMeasure</text></g>
<g id="n-ConsensusScore" class="n"><rect x="106.2" y="3662.5" width="211.1" height="48"/><text x="211.7" y="3691.5">ml:ConsensusScore</text></g>
<g id="n-MaxError" class="n"><rect x="138.8" y="3734.5" width="145.9" height="48"/><text x="211.7" y="3763.5">ml:MaxError</text></g>
<g id="n-PairwiseKernels" class="n"><rect x="108.7" y="3806.5" width="206" height="48"/><text x="211.7" y="3835.5">ml:PairwiseKernels</text></g>
<g id="n-CheckScoring" class="n"><rect x="118" y="3878.5" width="187.4" height="48"/><text x="211.7" y="3907.5">ml:CheckScoring</text></g>
<g id="n-D2PinballScore" class="n"><rect x="111.6" y="3950.5" width="200.2" height="48"/><text x="211.7" y="3979.5">ml:D2PinballScore</text></g>
<g id="n-MatthewsCorrcoef" class="n"><rect x="95.9" y="4022.5" width="231.6" height="48"/><text x="211.7" y="4051.5">ml:MatthewsCorrcoef</text></g>
<g id="n-RootMeanSquaredError" class="n"><rect x="70.6" y="4094.5" width="282.2" height="48"/><text x="211.7" y="4123.5">ml:RootMeanSquaredError</text></g>
<g id="n-PrecisionRecallFscoreSupport" class="n"><rect x="39.6" y="4166.5" width="344.2" height="48"/><text x="211.7" y="4195.5">ml:PrecisionRecallFscoreSupport</text></g>
<g id="n-TopKAccuracyScore" class="n"><rect x="88.9" y="4238.5" width="245.7" height="48"/><text x="211.7" y="4267.5">ml:TopKAccuracyScore</text></g>
<g id="n-LabelRankingAveragePrecisionScore" class="n"><rect x="7.6" y="4310.5" width="408.2" height="48"/><text x="211.7" y="4339.5">ml:LabelRankingAveragePrecisionScore</text></g>
<g id="n-HomogeneityScore" class="n"><rect x="94" y="4382.5" width="235.5" height="48"/><text x="211.7" y="4411.5">ml:HomogeneityScore</text></g>
<g id="n-AveragePrecisionScore" class="n"><rect x="73.8" y="4454.5" width="275.8" height="48"/><text x="211.7" y="4483.5">ml:AveragePrecisionScore</text></g>
<g id="n-MeanGammaDeviance" class="n"><rect x="78" y="4526.5" width="267.5" height="48"/><text x="211.7" y="4555.5">ml:MeanGammaDeviance</text></g>
<g id="n-SilhouetteSamples" class="n"><rect x="95.9" y="4598.5" width="231.6" height="48"/><text x="211.7" y="4627.5">ml:SilhouetteSamples</text></g>
<g id="n-GetScorerNames" class="n"><rect x="103" y="4670.5" width="217.5" height="48"/><text x="211.7" y="4699.5">ml:GetScorerNames</text></g>
<g id="n-MeanPinballLoss" class="n"><rect x="104.2" y="4742.5" width="215" height="48"/><text x="211.7" y="4771.5">ml:MeanPinballLoss</text></g>
<g id="n-NormalizedMutualInfoScore" class="n"><rect x="49.2" y="4814.5" width="325" height="48"/><text x="211.7" y="4843.5">ml:NormalizedMutualInfoScore</text></g>
<g id="n-DcgScore" class="n"><rect x="138.8" y="4886.5" width="145.9" height="48"/><text x="211.7" y="4915.5">ml:DcgScore</text></g>
<g id="n-RandScore" class="n"><rect x="133.3" y="4958.5" width="156.8" height="48"/><text x="211.7" y="4987.5">ml:RandScore</text></g>
<g id="n-DaviesBouldinScore" class="n"><rect x="89.2" y="5030.5" width="245" height="48"/><text x="211.7" y="5059.5">ml:DaviesBouldinScore</text></g>
<g id="n-SilhouetteScore" class="n"><rect x="108.7" y="5102.5" width="206" height="48"/><text x="211.7" y="5131.5">ml:SilhouetteScore</text></g>
<g id="n-ExplainedVarianceScore" class="n"><rect x="68.7" y="5174.5" width="286" height="48"/><text x="211.7" y="5203.5">ml:ExplainedVarianceScore</text></g>
<g id="n-MeanSquaredError" class="n"><rect x="92.7" y="5246.5" width="238" height="48"/><text x="211.7" y="5275.5">ml:MeanSquaredError</text></g>
<g id="n-PrecisionScore" class="n"><rect x="113.5" y="5318.5" width="196.4" height="48"/><text x="211.7" y="5347.5">ml:PrecisionScore</text></g>
<g id="n-CalinskiHarabaszScore" class="n"><rect x="73.2" y="5390.5" width="277" height="48"/><text x="211.7" y="5419.5">ml:CalinskiHarabaszScore</text></g>
<g id="n-CoverageError" class="n"><rect x="114.1" y="5462.5" width="195.2" height="48"/><text x="211.7" y="5491.5">ml:CoverageError</text></g>
<g id="n-MutualInfoScore" class="n"><rect x="104.9" y="5534.5" width="213.7" height="48"/><text x="211.7" y="5563.5">ml:MutualInfoScore</text></g>
<g id="n-R2Score" class="n"><rect x="145.2" y="5606.5" width="133.1" height="48"/><text x="211.7" y="5635.5">ml:R2Score</text></g>
<g id="n-RootMeanSquaredLogError" class="n"><rect x="52.7" y="5678.5" width="318" height="48"/><text x="211.7" y="5707.5">ml:RootMeanSquaredLogError</text></g>
<g id="n-PairwiseDistancesArgmin" class="n"><rect x="62" y="5750.5" width="299.4" height="48"/><text x="211.7" y="5779.5">ml:PairwiseDistancesArgmin</text></g>
<g id="n-LogLoss" class="n"><rect x="145.5" y="5822.5" width="132.4" height="48"/><text x="211.7" y="5851.5">ml:LogLoss</text></g>
<g id="n-MakeScorer" class="n"><rect x="126.9" y="5894.5" width="169.6" height="48"/><text x="211.7" y="5923.5">ml:MakeScorer</text></g>
<g id="n-LabelRankingLoss" class="n"><rect x="97.2" y="5966.5" width="229.1" height="48"/><text x="211.7" y="5995.5">ml:LabelRankingLoss</text></g>
<g id="n-AdjustedMutualInfoScore" class="n"><rect x="62" y="6038.5" width="299.4" height="48"/><text x="211.7" y="6067.5">ml:AdjustedMutualInfoScore</text></g>
<g id="n-EuclideanDistances" class="n"><rect x="90.5" y="6110.5" width="242.4" height="48"/><text x="211.7" y="6139.5">ml:EuclideanDistances</text></g>
<g id="n-ClassLikelihoodRatios" class="n"><rect x="79.3" y="6182.5" width="264.9" height="48"/><text x="211.7" y="6211.5">ml:ClassLikelihoodRatios</text></g>
<g id="n-RecallScore" class="n"><rect x="127.9" y="6254.5" width="167.6" height="48"/><text x="211.7" y="6283.5">ml:RecallScore</text></g>
<g id="n-FowlkesMallowsScore" class="n"><rect x="79.3" y="6326.5" width="264.9" height="48"/><text x="211.7" y="6355.5">ml:FowlkesMallowsScore</text></g>
<g id="n-D2AbsoluteErrorScore" class="n"><rect x="75.8" y="6398.5" width="271.9" height="48"/><text x="211.7" y="6427.5">ml:D2AbsoluteErrorScore</text></g>
<g id="n-CompletenessScore" class="n"><rect x="89.8" y="6470.5" width="243.8" height="48"/><text x="211.7" y="6499.5">ml:CompletenessScore</text></g>
<g id="n-AccuracyScore" class="n"><rect x="112.5" y="6542.5" width="198.4" height="48"/><text x="211.7" y="6571.5">ml:AccuracyScore</text></g>
<g id="n-HingeLoss" class="n"><rect x="134.3" y="6614.5" width="154.8" height="48"/><text x="211.7" y="6643.5">ml:HingeLoss</text></g>
<g id="n-MeanTweedieDeviance" class="n"><rect x="75.1" y="6686.5" width="273.2" height="48"/><text x="211.7" y="6715.5">ml:MeanTweedieDeviance</text></g>
<g id="n-GetScorer" class="n"><rect x="136.2" y="6758.5" width="151" height="48"/><text x="211.7" y="6787.5">ml:GetScorer</text></g>
<g id="n-F1Score" class="n"><rect x="145.5" y="6830.5" width="132.4" height="48"/><text x="211.7" y="6859.5">ml:F1Score</text></g>
<g id="n-PairwiseDistancesChunked" class="n"><rect x="54.6" y="6902.5" width="314.2" height="48"/><text x="211.7" y="6931.5">ml:PairwiseDistancesChunked</text></g>
<g id="n-Auc" class="n"><rect x="166.9" y="6974.5" width="89.6" height="48"/><text x="211.7" y="7003.5">ml:Auc</text></g>
<g id="n-RocAucScore" class="n"><rect x="121.2" y="7046.5" width="181" height="48"/><text x="211.7" y="7075.5">ml:RocAucScore</text></g>
<g id="n-BalancedAccuracyScore" class="n"><rect x="68.7" y="7118.5" width="286" height="48"/><text x="211.7" y="7147.5">ml:BalancedAccuracyScore</text></g>
<g id="n-PairwiseDistancesArgminMin" class="n"><rect x="43.5" y="7190.5" width="336.5" height="48"/><text x="211.7" y="7219.5">ml:PairwiseDistancesArgminMin</text></g>
<g id="n-ClassificationReport" class="n"><rect x="87.6" y="7262.5" width="248.2" height="48"/><text x="211.7" y="7291.5">ml:ClassificationReport</text></g>
<g id="n-ConfusionMatrix" class="n"><rect x="105.2" y="7334.5" width="213" height="48"/><text x="211.7" y="7363.5">ml:ConfusionMatrix</text></g>
<g id="n-NdcgScore" class="n"><rect x="131.8" y="7406.5" width="159.9" height="48"/><text x="211.7" y="7435.5">ml:NdcgScore</text></g>
<g id="n-CohenKappaScore" class="n"><rect x="97.2" y="7478.5" width="229.1" height="48"/><text x="211.7" y="7507.5">ml:CohenKappaScore</text></g>
<g id="n-NanEuclideanDistances" class="n"><rect x="70.3" y="7550.5" width="282.8" height="48"/><text x="211.7" y="7579.5">ml:NanEuclideanDistances</text></g>
<g id="n-HammingLoss" class="n"><rect x="115.8" y="7622.5" width="191.9" height="48"/><text x="211.7" y="7651.5">ml:HammingLoss</text></g>
<g id="n-FbetaScore" class="n"><rect x="129.8" y="7694.5" width="163.8" height="48"/><text x="211.7" y="7723.5">ml:FbetaScore</text></g>
</g>
</svg>
